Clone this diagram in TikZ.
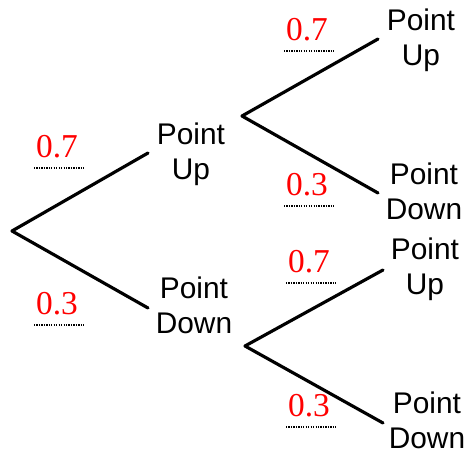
\documentclass[tikz,border=0pt]{standalone}
\usepackage{fontspec}
\setmainfont{Liberation Serif}
\setsansfont{Liberation Sans}
\usetikzlibrary{positioning}

\tikzset{
  branch/.style={line width=1.8pt, line cap=round, line join=round},
  outcome/.style={font=\sffamily\fontsize{17}{20}\selectfont, align=center, inner sep=0pt},
  prob/.style={text=red, font=\fontsize{19}{21}\selectfont, anchor=base, inner sep=1pt},
  dotline/.style={line width=0.6pt, dash pattern=on 0.7pt off 0.7pt}
}

\begin{document}
\begin{tikzpicture}[x=0.02cm, y=-0.02cm]
  \useasboundingbox (0,0) rectangle (468,453);

  % branch points
  \coordinate (root) at (12,231);
  \coordinate (upEnd) at (148,153);
  \coordinate (downEnd) at (148,308);
  \coordinate (upStart) at (242,116);
  \coordinate (upUpEnd) at (378,39);
  \coordinate (upDownEnd) at (378,193);
  \coordinate (downStart) at (245,346);
  \coordinate (downUpEnd) at (383,270);
  \coordinate (downDownEnd) at (383,423);

  \draw[branch] (upEnd) -- (root) -- (downEnd);
  \draw[branch] (upUpEnd) -- (upStart) -- (upDownEnd);
  \draw[branch] (downUpEnd) -- (downStart) -- (downDownEnd);

  % outcomes
  \node[outcome] (up) at (191,154) {Point\\Up};
  \node[outcome] (down) at (194,305) {Point\\Down};
  \node[outcome] (upUp) at (421,40) {Point\\Up};
  \node[outcome] (upDown) at (424,191) {Point\\Down};
  \node[outcome] (downUp) at (425,269) {Point\\Up};
  \node[outcome] (downDown) at (427,420) {Point\\Down};

  % probabilities
  \node[prob] (p1) at (57,158) {0.7};
  \node[prob] (p2) at (57,315) {0.3};
  \node[prob] (p3) at (307,41) {0.7};
  \node[prob] (p4) at (307,196) {0.3};
  \node[prob] (p5) at (309,273) {0.7};
  \node[prob] (p6) at (309,417) {0.3};
  \foreach \p in {p1,p2,p3,p4,p5,p6}
    \draw[dotline] ([yshift=-0.2cm]\p.base west) -- ([yshift=-0.2cm, xshift=0.1cm]\p.base east);
\end{tikzpicture}
\end{document}
